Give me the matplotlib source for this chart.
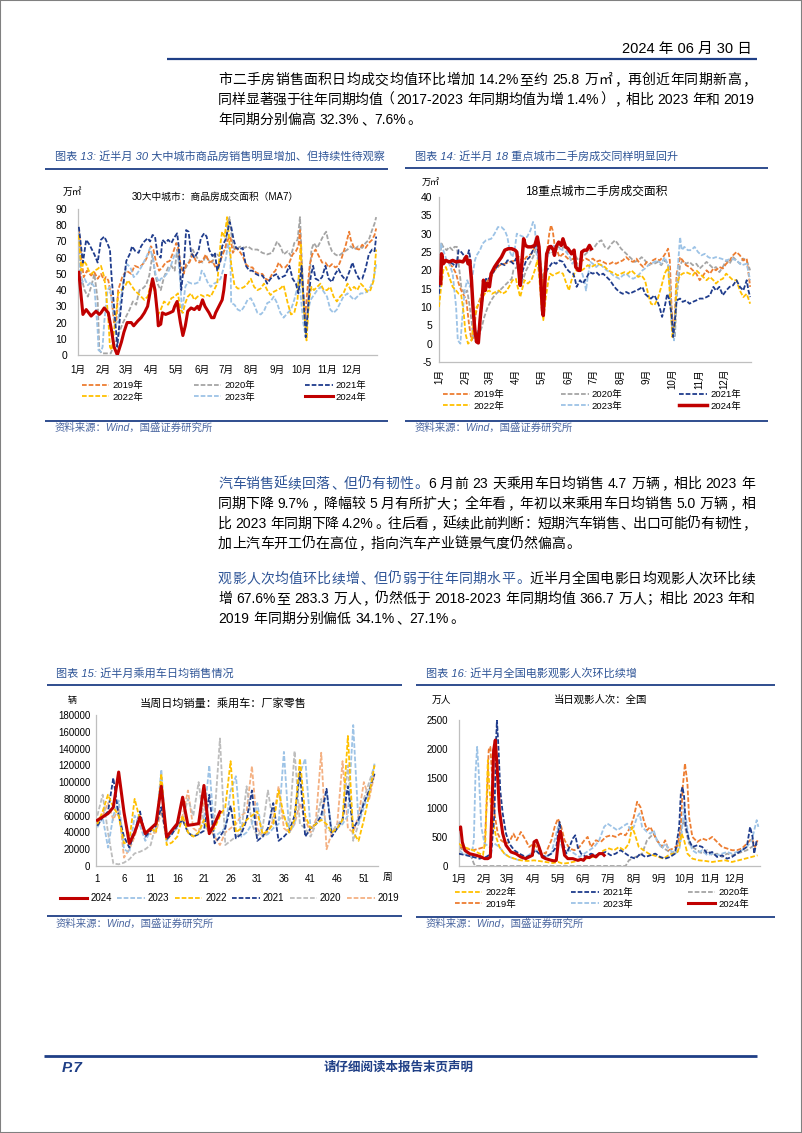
import matplotlib
matplotlib.use('Agg')
import matplotlib.pyplot as plt
from matplotlib.lines import Line2D
from matplotlib.patches import Rectangle

# ======================= DATA =======================
MONTH_LABELS = ['1月', '2月', '3月', '4月', '5月', '6月', '7月', '8月', '9月', '10月', '11月', '12月']
MONTH_START = [0, 31, 59, 90, 120, 151, 181, 212, 243, 273, 304, 334]
YEARS = ['2019年', '2020年', '2021年', '2022年', '2023年', '2024年']

# Chart 13: 30 cities new-home transaction area MA7, (day of year, 万㎡)
C13_2019 = [(1,78),(4,60),(7,48),(11,52),(16,49),(20,51),(24,47),(28,50),(32,46),(34,48),(37,46),(41,35),(44,20),(47,22),(49,40),(54,48),(59,52),(65,50),(69,55),(74,54),(77,55),(81,57),(85,61),(89,67),(92,65),(95,58),(99,52),(103,54),(107,57),(112,58),(116,63),(120,69),(122,67),(125,56),(129,50),(132,56),(136,57),(140,62),(144,58),(148,57),(152,58),(156,62),(160,57),(164,58),(168,54),(172,56),(176,61),(179,65),(183,71),(186,73),(189,63),(193,66),(197,64),(201,61),(205,56),(209,54),(213,54),(217,51),(221,50),(225,50),(229,47),(233,46),(237,50),(241,52),(245,57),(249,54),(253,54),(258,57),(262,62),(266,64),(269,67),(271,77),(273,52),(277,22),(280,40),(283,56),(286,62),(290,65),(294,61),(298,57),(302,57),(306,54),(310,56),(314,54),(318,55),(322,60),(327,68),(331,76),(333,71),(337,66),(343,65),(347,68),(351,66),(355,69),(359,71),(362,74),(364,78)]
C13_2020 = [(1,69),(4,48),(8,40),(12,36),(16,42),(20,50),(24,34),(26,3),(29,1),(34,1),(40,1),(43,5),(47,9),(51,15),(55,20),(59,24),(63,28),(67,33),(71,31),(75,40),(79,41),(83,43),(87,49),(91,62),(94,50),(97,44),(101,40),(105,48),(110,54),(114,55),(118,52),(121,65),(124,54),(128,52),(132,54),(136,58),(140,65),(144,61),(148,58),(152,57),(156,61),(160,58),(164,57),(168,63),(172,61),(176,63),(180,65),(183,81),(185,85),(188,71),(191,65),(195,66),(199,67),(203,66),(207,67),(213,65),(219,65),(225,63),(231,62),(237,63),(243,70),(247,67),(251,62),(256,64),(260,61),(264,69),(268,71),(271,85),(273,61),(276,28),(279,15),(282,44),(285,65),(288,69),(292,66),(296,70),(300,74),(303,76),(306,69),(310,64),(314,62),(318,61),(323,63),(329,65),(333,67),(337,65),(342,67),(347,66),(351,69),(355,71),(359,77),(362,81),(364,85)]
C13_2021 = [(1,79),(6,57),(10,71),(14,68),(20,62),(24,57),(28,71),(32,73),(34,71),(39,65),(41,48),(45,24),(48,5),(51,22),(55,42),(59,58),(63,62),(66,67),(70,64),(74,63),(77,67),(81,70),(85,72),(88,70),(91,74),(94,73),(97,62),(101,60),(103,71),(107,69),(110,71),(114,69),(117,72),(121,75),(123,67),(126,40),(129,54),(132,77),(135,76),(138,63),(142,60),(147,64),(150,72),(154,75),(157,73),(160,65),(164,61),(167,63),(170,52),(174,58),(176,67),(180,71),(183,77),(185,82),(187,79),(190,71),(193,66),(197,65),(201,66),(205,55),(209,52),(213,52),(217,50),(221,49),(225,49),(229,46),(231,44),(235,47),(239,49),(243,50),(245,47),(249,48),(253,49),(258,55),(262,47),(266,44),(269,38),(271,46),(273,55),(275,38),(278,11),(281,30),(284,48),(287,55),(290,47),(294,46),(298,48),(302,55),(306,47),(310,45),(314,50),(318,53),(322,49),(327,46),(331,51),(335,57),(339,51),(343,47),(347,47),(351,53),(355,62),(359,65),(362,64),(364,73)]
C13_2022 = [(1,74),(4,52),(7,58),(10,56),(13,52),(17,50),(20,52),(24,53),(28,55),(32,48),(34,40),(37,22),(39,5),(41,3),(44,15),(47,28),(49,38),(53,40),(57,42),(61,46),(65,43),(69,40),(73,38),(77,36),(81,34),(85,36),(89,44),(92,43),(95,34),(98,25),(101,28),(105,33),(110,31),(114,35),(118,36),(122,38),(125,28),(128,26),(131,32),(134,36),(138,38),(142,34),(146,36),(150,37),(154,36),(158,37),(162,36),(166,40),(170,44),(174,69),(176,76),(179,73),(182,85),(184,75),(187,56),(191,43),(195,41),(199,41),(203,42),(207,44),(211,47),(215,42),(219,40),(223,41),(227,44),(231,40),(235,37),(239,39),(243,40),(247,41),(251,43),(256,32),(260,25),(264,26),(268,34),(270,54),(272,68),(273,50),(277,20),(279,9),(282,34),(285,42),(288,40),(292,42),(296,44),(300,40),(304,40),(308,42),(312,36),(316,33),(320,36),(324,38),(329,44),(333,40),(337,42),(341,40),(345,44),(349,42),(353,39),(357,40),(361,46),(364,65)]
C13_2023 = [(1,61),(4,44),(8,47),(12,43),(16,45),(20,42),(24,15),(25,3),(28,2),(30,5),(32,20),(36,40),(39,42),(41,34),(45,20),(49,20),(52,34),(56,48),(60,56),(64,54),(68,48),(72,50),(77,54),(81,58),(84,61),(88,66),(92,58),(95,49),(99,45),(101,47),(105,48),(110,51),(114,56),(118,62),(122,63),(125,44),(127,26),(131,42),(134,45),(139,44),(143,44),(148,45),(151,52),(154,50),(158,45),(162,42),(166,44),(170,45),(174,47),(178,54),(181,61),(183,69),(186,61),(187,32),(191,31),(195,28),(199,27),(203,30),(207,34),(211,35),(215,31),(219,26),(223,25),(227,27),(231,32),(235,33),(239,36),(243,32),(247,26),(251,23),(256,26),(260,28),(264,34),(267,40),(270,49),(272,36),(275,20),(278,11),(281,28),(284,34),(288,37),(292,40),(296,42),(300,39),(304,36),(308,28),(312,26),(316,28),(320,32),(324,36),(329,38),(333,36),(337,34),(341,36),(345,38),(349,38),(353,39),(357,42),(361,47),(364,56)]
C13_2024 = [(1,51),(6,25),(10,28),(16,24),(22,27),(26,25),(28,26),(32,29),(37,26),(41,15),(44,5),(48,0),(53,8),(56,14),(60,20),(65,20),(68,18),(73,21),(77,23),(81,26),(85,30),(87,36),(91,47),(94,40),(97,25),(98,18),(101,19),(103,26),(107,25),(112,26),(116,27),(118,30),(121,33),(125,20),(128,12),(131,18),(134,27),(138,29),(142,28),(146,30),(148,28),(152,34),(155,30),(160,26),(163,23),(166,23),(168,26),(172,30),(174,32),(176,34),(178,40),(180,49)]

# Chart 14: 18 cities second-hand transaction area, (day of year, 万㎡)
C14_2019 = [(0,17.3),(2,24.5),(5,23.2),(9,22.7),(12,21.8),(16,20.9),(20,19.1),(23,16.4),(26,14.5),(29,13.2),(32,11.8),(35,5.5),(38,0.9),(41,2.7),(43,8.2),(46,10.9),(50,13.6),(54,15.5),(57,17.3),(61,18.2),(65,20.0),(71,21.4),(77,21.8),(83,22.3),(89,22.7),(94,23.6),(98,22.3),(102,23.6),(108,24.5),(112,26.4),(114,29.1),(116,27.3),(119,20.9),(121,15.5),(122,17.3),(126,24.5),(129,30.0),(131,32.3),(133,30.9),(135,27.3),(138,25.5),(141,23.6),(145,24.5),(149,23.6),(153,22.7),(157,23.2),(161,21.8),(165,22.3),(168,22.7),(172,23.2),(176,22.7),(180,23.2),(184,22.3),(188,22.7),(192,22.3),(196,21.8),(200,21.8),(204,22.3),(207,21.8),(211,22.3),(215,22.7),(219,23.6),(223,22.7),(227,22.3),(231,23.2),(235,21.8),(239,20.9),(243,22.3),(246,21.4),(250,22.7),(254,23.2),(258,22.7),(262,23.6),(266,25.0),(268,25.9),(270,22.7),(272,10.0),(274,1.8),(276,8.2),(278,19.1),(282,23.6),(285,22.7),(289,21.4),(293,20.9),(297,20.0),(301,19.1),(305,17.3),(309,18.6),(313,20.0),(317,19.1),(321,20.5),(324,20.0),(328,20.9),(332,20.5),(336,21.8),(340,22.7),(344,24.1),(348,25.0),(352,24.1),(356,22.7),(360,23.2),(364,15.5)]
C14_2020 = [(0,21.8),(3,27.3),(5,26.4),(9,25.5),(12,26.4),(16,25.5),(18,26.4),(21,26.4),(23,21.8),(26,15.5),(28,14.5),(30,13.6),(33,14.5),(36,10.0),(38,6.4),(40,1.8),(43,0.5),(46,1.8),(50,4.5),(53,7.3),(57,10.0),(61,11.8),(65,13.2),(71,14.5),(77,15.9),(81,16.8),(85,17.7),(87,20.0),(91,20.9),(95,19.5),(98,17.3),(102,20.0),(106,21.8),(110,23.6),(114,26.4),(116,28.2),(119,21.8),(122,16.4),(125,21.8),(127,25.0),(131,24.5),(135,25.5),(139,26.4),(143,25.9),(147,26.4),(151,25.0),(155,25.5),(159,24.1),(163,22.7),(167,23.6),(170,24.1),(174,25.0),(178,25.5),(182,26.4),(186,27.7),(190,28.2),(194,26.4),(198,25.9),(202,27.3),(206,28.2),(209,27.3),(213,25.9),(217,25.0),(221,24.1),(225,23.2),(229,22.3),(233,22.7),(237,23.6),(241,22.7),(245,21.4),(248,21.8),(252,21.8),(256,22.3),(260,21.4),(264,22.7),(268,21.8),(271,14.5),(273,3.6),(276,1.8),(278,12.7),(282,21.4),(285,22.7),(289,21.8),(293,22.3),(297,21.4),(301,21.8),(305,20.5),(309,21.4),(313,22.3),(317,21.4),(321,20.5),(324,20.9),(328,19.5),(332,20.9),(336,22.7),(340,21.8),(344,23.6),(348,22.7),(352,21.8),(356,23.2),(360,22.7),(364,20.0)]
C14_2021 = [(0,13.6),(2,19.1),(4,21.8),(8,22.7),(12,22.3),(16,21.8),(20,20.9),(23,25.5),(26,25.0),(29,24.1),(32,22.3),(35,25.5),(37,22.7),(38,17.3),(40,10.0),(42,3.6),(44,0.9),(47,4.5),(50,10.0),(52,15.5),(55,17.7),(57,17.3),(61,18.6),(65,20.0),(69,21.4),(73,21.8),(77,21.4),(80,22.7),(83,22.7),(87,21.8),(90,23.2),(94,19.5),(96,15.5),(98,20.0),(102,22.7),(106,23.6),(110,25.5),(114,27.7),(116,25.0),(119,17.3),(121,10.0),(124,17.3),(126,20.0),(129,20.9),(133,22.3),(137,21.8),(141,22.7),(145,22.3),(149,20.5),(153,19.5),(157,19.1),(159,17.7),(161,15.5),(165,17.3),(168,16.4),(172,17.7),(176,19.5),(180,19.1),(184,19.5),(188,18.6),(192,19.1),(196,18.2),(200,17.3),(204,15.9),(207,15.0),(211,14.1),(215,13.6),(219,14.1),(223,13.6),(227,14.1),(231,14.5),(235,15.0),(238,15.5),(241,13.6),(245,12.7),(248,12.3),(252,13.2),(255,11.8),(258,10.0),(261,7.3),(264,10.0),(267,13.6),(269,12.3),(272,8.2),(274,1.8),(276,6.4),(278,11.8),(282,12.3),(285,11.4),(289,11.8),(293,10.9),(297,11.4),(301,11.8),(305,12.3),(309,12.3),(313,12.7),(317,13.2),(321,15.5),(324,14.5),(328,15.5),(332,13.2),(336,14.5),(340,15.5),(344,15.9),(348,17.3),(352,15.5),(356,14.5),(360,17.3),(362,14.5),(364,12.7)]
C14_2022 = [(0,10.0),(2,14.5),(5,20.0),(8,20.9),(12,18.2),(16,15.5),(20,14.5),(23,13.6),(26,13.2),(29,8.2),(31,2.7),(34,0.0),(38,0.9),(41,6.4),(44,10.0),(47,10.9),(51,12.7),(55,14.1),(59,14.5),(62,13.6),(66,14.1),(70,14.5),(74,13.6),(78,14.1),(82,15.5),(86,17.3),(90,17.7),(92,15.5),(95,12.7),(98,15.5),(100,17.3),(104,16.4),(108,17.3),(112,20.0),(115,22.7),(117,19.1),(120,10.0),(122,6.4),(125,12.7),(128,17.3),(130,19.1),(133,18.6),(137,19.1),(141,19.5),(145,19.1),(149,16.4),(152,14.5),(155,17.3),(159,19.5),(163,20.5),(167,20.0),(170,20.5),(174,21.4),(178,20.9),(182,21.4),(186,21.8),(190,21.4),(194,20.9),(198,20.0),(202,19.5),(206,19.1),(209,18.6),(213,19.1),(217,19.5),(221,19.1),(225,20.0),(229,19.1),(233,18.2),(237,18.6),(241,17.3),(245,13.2),(248,10.9),(252,10.5),(256,12.3),(260,15.5),(264,19.1),(268,20.9),(271,10.0),(273,1.8),(276,5.5),(278,16.4),(282,18.6),(285,19.1),(289,19.5),(293,19.1),(297,18.6),(301,20.0),(305,19.1),(309,18.2),(313,17.3),(317,18.2),(321,17.3),(324,16.4),(328,17.3),(332,17.7),(336,19.1),(340,18.2),(344,17.3),(348,17.3),(352,14.5),(356,12.7),(360,13.6),(364,10.9)]
C14_2023 = [(0,18.2),(2,27.3),(5,25.5),(9,22.7),(12,21.8),(16,19.1),(20,10.0),(22,0.9),(25,0.0),(27,6.4),(30,14.5),(33,17.3),(36,15.5),(39,18.2),(42,22.7),(44,24.1),(48,25.5),(51,27.3),(55,28.2),(61,28.6),(65,30.0),(69,31.8),(73,31.8),(77,30.9),(80,29.1),(83,25.0),(86,23.6),(89,26.4),(91,30.0),(95,29.5),(99,29.1),(103,29.1),(107,30.9),(110,33.2),(112,32.3),(114,24.5),(116,22.7),(119,18.2),(121,10.0),(124,17.3),(126,22.7),(129,25.5),(133,26.8),(137,26.4),(141,25.9),(145,25.5),(149,25.0),(153,23.6),(156,21.8),(159,22.7),(163,20.9),(167,19.5),(170,17.3),(172,14.5),(174,18.2),(177,22.3),(180,21.8),(184,20.9),(188,21.8),(192,20.9),(196,20.0),(200,19.5),(204,18.6),(207,18.2),(211,17.7),(215,18.6),(219,19.1),(223,18.2),(227,17.7),(231,18.2),(235,19.1),(238,20.0),(241,20.5),(245,21.4),(248,21.8),(252,22.3),(256,22.7),(260,21.8),(264,23.6),(269,20.9),(272,5.5),(275,0.9),(277,10.0),(280,22.7),(282,29.1),(284,25.5),(287,26.4),(291,25.5),(295,25.5),(299,26.4),(303,25.0),(307,24.1),(311,24.5),(315,23.6),(319,23.2),(324,23.6),(330,23.2),(336,22.7),(342,23.2),(348,22.7),(354,21.4),(360,21.8),(364,17.3)]
C14_2024 = [(2,16.4),(3,24.5),(5,21.8),(8,22.7),(12,22.3),(16,22.7),(20,22.3),(24,22.5),(28,22.3),(32,23.8),(34,21.8),(36,22.7),(38,17.3),(40,9.1),(42,3.6),(44,0.5),(46,0.2),(48,6.4),(51,13.6),(52,17.3),(54,14.5),(56,16.4),(59,15.5),(61,19.1),(65,20.9),(69,22.3),(73,23.6),(77,25.5),(81,25.9),(85,25.9),(89,25.5),(91,25.0),(93,20.9),(95,15.9),(97,22.3),(99,28.6),(101,26.8),(104,26.4),(108,26.4),(112,26.8),(115,29.1),(117,26.4),(119,17.3),(121,9.1),(122,7.7),(124,17.3),(126,24.5),(129,26.4),(131,26.5),(134,25.5),(135,24.1),(137,26.4),(140,27.7),(143,26.8),(145,28.6),(148,26.4),(151,25.9),(155,24.5),(158,25.5),(160,20.9),(163,20.0),(165,20.0),(167,25.0),(170,25.5),(173,25.5),(176,26.8),(178,25.9)]

# Chart 15: weekly average daily passenger-car retail sales (辆), week 1..53
C15_WEEKS = list(range(1, 54))
C15_2024 = [54500, 58500, 62500, 70000, 112000, 64000, 27000, 40000, 58000, 38600, 44600, 50500, 95000, 34600, 42600, 50500, 82000, 48500, 49400, 50500, 96000, 38600, 50500, 64500]
C15_2023 = [46000, 58000, 22000, 60000, 78000, 20000, 16000, 60000, 48000, 30000, 42000, 45000, 115000, 30000, 40000, 48000, 80000, 40000, 36000, 38000, 55000, 120000, 35000, 40000, 45000, 90000, 107000, 35000, 40000, 50000, 75000, 35000, 38000, 45000, 50000, 136000, 40000, 50000, 110000, 128000, 45000, 50000, 55000, 90000, 40000, 45000, 50000, 60000, 168000, 50000, 70000, 90000, 122000]
C15_2022 = [50000, 65000, 85000, 70000, 60000, 27000, 30000, 80000, 55000, 40000, 45000, 40000, 110000, 25000, 28000, 35000, 60000, 40000, 35000, 40000, 55000, 40000, 45000, 60000, 70000, 125000, 40000, 45000, 55000, 60000, 65000, 38000, 42000, 50000, 90000, 60000, 40000, 55000, 128000, 60000, 45000, 50000, 55000, 50000, 40000, 45000, 55000, 155000, 40000, 30000, 55000, 85000, 120000]
C15_2021 = [48000, 58000, 65000, 105000, 60000, 35000, 22000, 40000, 65000, 35000, 42000, 48000, 70000, 32000, 38000, 48000, 55000, 40000, 35000, 38000, 42000, 85000, 27000, 35000, 45000, 72000, 33000, 38000, 55000, 90000, 30000, 35000, 45000, 75000, 30000, 35000, 42000, 60000, 112000, 35000, 45000, 50000, 60000, 92000, 35000, 45000, 55000, 95000, 45000, 55000, 75000, 90000, 110000]
C15_2020 = [60000, 85000, 40000, 3000, 2000, 4000, 8000, 15000, 17000, 20000, 25000, 50000, 70000, 30000, 40000, 45000, 55000, 80000, 60000, 100000, 50000, 40000, 60000, 152000, 25000, 30000, 35000, 40000, 95000, 50000, 35000, 45000, 90000, 50000, 55000, 60000, 45000, 137000, 50000, 45000, 35000, 50000, 80000, 45000, 40000, 50000, 55000, 120000, 30000, 50000, 80000, 100000, 120000]
C15_2019 = [55000, 60000, 75000, 55000, 70000, 10000, 20000, 35000, 60000, 40000, 38000, 40000, 65000, 35000, 40000, 50000, 60000, 90000, 45000, 40000, 75000, 45000, 35000, 25000, 40000, 45000, 50000, 60000, 65000, 119000, 45000, 35000, 40000, 55000, 95000, 45000, 40000, 50000, 75000, 55000, 40000, 55000, 135000, 20000, 40000, 50000, 125000, 45000, 40000, 60000, 100000, 80000, 110000]
C15_XTICKS = [1, 6, 11, 16, 21, 26, 31, 36, 41, 46, 51]

# Chart 16: national daily cinema admissions (万人), (day of year, value)
C16_2019 = [(0,326),(9,300),(17,270),(25,300),(31,326),(34,1185),(36,1985),(38,2040),(40,1585),(43,900),(47,555),(51,440),(57,383),(61,412),(66,555),(70,440),(75,583),(81,440),(85,326),(91,383),(97,270),(105,212),(112,440),(116,670),(120,812),(124,670),(128,440),(134,300),(140,270),(146,326),(152,440),(156,498),(160,326),(166,440),(172,412),(178,498),(184,526),(190,498),(196,555),(202,526),(208,670),(212,840),(216,1100),(220,1010),(224,785),(228,612),(232,670),(236,555),(240,440),(246,326),(250,440),(254,270),(260,300),(265,355),(269,670),(271,1300),(274,1756),(277,1413),(279,840),(283,498),(289,412),(295,470),(301,440),(307,498),(313,412),(319,326),(325,300),(331,270),(337,270),(343,300),(349,383),(355,470),(359,326),(362,440)]
C16_2020 = [(0,326),(5,270),(11,212),(15,155),(18,40),(20,0),(60,0),(120,0),(180,0),(202,0),(206,97),(214,155),(222,212),(228,440),(232,498),(236,555),(240,440),(246,326),(252,270),(258,212),(262,270),(267,383),(270,670),(273,785),(275,612),(279,383),(283,326),(289,270),(295,212),(301,270),(307,183),(313,212),(319,155),(325,212),(331,183),(337,212),(343,240),(349,270),(355,326),(362,383)]
C16_2021 = [(0,210),(9,183),(17,155),(25,126),(33,155),(39,212),(43,900),(45,2156),(46,2500),(48,1985),(50,1300),(53,900),(57,555),(61,383),(67,270),(73,212),(81,155),(87,183),(93,270),(97,212),(105,155),(112,212),(118,326),(122,755),(125,440),(130,212),(134,326),(138,470),(141,526),(144,326),(148,212),(154,155),(160,212),(166,183),(172,212),(178,240),(184,183),(190,212),(196,270),(202,212),(208,155),(214,126),(220,212),(226,155),(232,183),(238,212),(244,155),(250,126),(256,155),(262,212),(267,670),(269,1240),(271,1355),(273,1185),(275,670),(279,440),(283,326),(289,355),(295,326),(301,212),(307,240),(313,155),(319,183),(325,126),(331,155),(337,212),(343,270),(349,326),(353,670),(356,498),(358,212),(361,440)]
C16_2022 = [(0,383),(5,326),(11,300),(17,270),(25,212),(29,183),(32,440),(34,1413),(35,1813),(37,1300),(40,840),(45,498),(49,326),(55,212),(61,155),(67,126),(75,97),(83,86),(91,97),(97,86),(105,69),(114,51),(120,69),(126,40),(132,51),(138,69),(146,97),(154,126),(162,155),(170,212),(176,270),(182,300),(188,270),(194,326),(200,270),(206,383),(210,670),(213,555),(218,326),(224,270),(230,212),(236,183),(242,155),(248,126),(254,183),(260,212),(265,240),(267,326),(270,555),(273,440),(277,212),(283,126),(291,97),(299,86),(307,69),(315,86),(323,97),(331,69),(339,97),(347,126),(355,155),(362,183)]
C16_2023 = [(0,270),(5,212),(11,183),(15,155),(18,440),(20,1585),(22,2040),(24,1585),(27,670),(31,383),(37,326),(43,383),(49,326),(55,212),(61,155),(67,126),(73,97),(81,155),(87,212),(93,270),(99,212),(105,155),(112,212),(117,498),(120,670),(122,440),(128,212),(134,270),(140,212),(146,155),(152,212),(158,270),(164,326),(170,440),(176,670),(180,726),(186,670),(192,612),(198,670),(204,726),(208,612),(212,670),(216,840),(219,900),(222,670),(228,583),(232,555),(236,612),(240,440),(246,300),(250,383),(256,270),(262,212),(267,270),(270,555),(273,1010),(275,840),(279,440),(283,270),(289,212),(295,270),(301,183),(307,212),(313,183),(319,212),(325,240),(331,212),(337,240),(343,270),(349,326),(355,440),(358,612),(361,785),(363,670)]
C16_2024 = [(0,640),(2,670),(4,410),(7,270),(13,210),(21,183),(27,155),(31,126),(35,126),(38,155),(40,1010),(42,1985),(44,2156),(46,1756),(49,955),(53,555),(57,355),(63,240),(69,210),(75,155),(81,126),(85,155),(89,183),(91,412),(94,440),(97,326),(101,155),(105,126),(112,97),(116,86),(118,97),(121,498),(123,595),(125,440),(128,183),(132,126),(138,126),(144,97),(148,114),(151,97),(154,155),(158,143),(162,183),(166,155),(170,212),(174,212),(176,183)]

# ======================= TEXT =======================
DATE_TEXT = '2024 年 06 月 30 日'
P1 = [
    [('市二手房销售面积日均成交均值环比增加 14.2%至约 25.8 万㎡，再创近年同期新高，', 'k')],
    [('同样显著强于往年同期均值（2017-2023 年同期均值为增 1.4%），相比 2023 年和 2019', 'k')],
    [('年同期分别偏高 32.3%、7.6%。', 'k')],
]
BLUE_T = '#2F5597'
P2 = [
    [('汽车销售延续回落、但仍有韧性。', BLUE_T), ('6 月前 23 天乘用车日均销售 4.7 万辆，相比 2023 年', 'k')],
    [('同期下降 9.7%，降幅较 5 月有所扩大；全年看，年初以来乘用车日均销售 5.0 万辆，相', 'k')],
    [('比 2023 年同期下降 4.2%。往后看，延续此前判断：短期汽车销售、出口可能仍有韧性，', 'k')],
    [('加上汽车开工仍在高位，指向汽车产业链景气度仍然偏高。', 'k')],
]
P3 = [
    [('观影人次均值环比续增、但仍弱于往年同期水平。', BLUE_T), ('近半月全国电影日均观影人次环比续', 'k')],
    [('增 67.6%至 283.3 万人，仍然低于 2018-2023 年同期均值 366.7 万人；相比 2023 年和', 'k')],
    [('2019 年同期分别偏低 34.1%、27.1%。', 'k')],
]
FIG_TITLES = ['图表 13: 近半月 30 大中城市商品房销售明显增加、但持续性待观察',
              '图表 14: 近半月 18 重点城市二手房成交同样明显回升',
              '图表 15: 近半月乘用车日均销售情况',
              '图表 16: 近半月全国电影观影人次环比续增']
SOURCE = '资料来源：Wind，国盛证券研究所'

# ======================= STYLE =======================
W, H = 802, 1133
plt.rcParams['font.family'] = ['Liberation Sans', 'Noto Sans CJK SC']
plt.rcParams['axes.unicode_minus'] = False

C_OR, C_GR, C_NV, C_GD, C_LB, C_RD = '#ED7D31', '#A5A5A5', '#1F3C8C', '#FFC000', '#9DC3E6', '#C00000'
DARKBLUE = '#1F3F86'
DASH = (2.6, 1.1)

fig = plt.figure(figsize=(W / 100, H / 100), dpi=100)
renderer = fig.canvas.get_renderer()


def fx(x):
    return x / W


def fy(y):
    return 1 - y / H


def text(x, y, s, **kw):
    kw.setdefault('va', 'center')
    return fig.text(fx(x), fy(y), s, **kw)


def hline(x0, x1, y, color, lw):
    fig.add_artist(Line2D([fx(x0), fx(x1)], [fy(y), fy(y)], color=color, lw=lw,
                          transform=fig.transFigure, solid_capstyle='butt'))


def make_ax(l, t, r, b):
    return fig.add_axes([fx(l), fy(b), (r - l) / W, (b - t) / H])


PUNCT_LEFT = set('，。、：；！？）》”’')
PUNCT_RIGHT = set('（《“‘')


def is_wide(ch):
    return ord(ch[0]) > 0x2E80


def tokenize(segs):
    items = []
    for s, c in segs:
        buf = ''
        for ch in s:
            if is_wide(ch) or ch == ' ':
                if buf:
                    items.append((buf, c))
                    buf = ''
                items.append((ch, c))
            else:
                buf += ch
        if buf:
            items.append((buf, c))
    return items


def body_line(x0, yc, segs, x1=None, size=10):
    em = size * 100 / 72
    yb = yc + 0.36 * em
    items = tokenize(segs)
    widths, objs = [], []
    for tk, c in items:
        if tk == ' ':
            widths.append(0.26 * em)
            objs.append(None)
            continue
        if is_wide(tk):
            ha = 'left' if tk in PUNCT_LEFT else ('right' if tk in PUNCT_RIGHT else 'center')
        else:
            ha = 'left'
        t = fig.text(0, fy(yb), tk, color=c, fontsize=size, va='baseline', ha=ha)
        if is_wide(tk):
            widths.append(em)
        else:
            widths.append(t.get_window_extent(renderer).width + 0.08 * em)
        objs.append((t, ha))
    n = len(items)
    gap = 0.0
    if x1 is not None and n > 1:
        gap = (x1 - x0 - sum(widths)) / (n - 1)
    x = x0
    for (tk, c), w, o in zip(items, widths, objs):
        if o is not None:
            t, ha = o
            if ha == 'center':
                px = x + w / 2
            elif ha == 'left':
                px = x + (0.1 * em if is_wide(tk) else 0.04 * em)
            else:
                px = x + w - 0.1 * em
            t.set_x(fx(px))
        x += w + gap


def style_ax(ax, ylim, yticks, ypad, xpad, ysize=7, xsize=7):
    ax.set_ylim(*ylim)
    ax.set_yticks(yticks)
    for s in ['top', 'right']:
        ax.spines[s].set_visible(False)
    for s in ['left', 'bottom']:
        ax.spines[s].set_color('#BFBFBF')
        ax.spines[s].set_linewidth(0.9)
    ax.tick_params(axis='y', length=0, labelsize=ysize, pad=ypad)
    ax.tick_params(axis='x', length=0, labelsize=xsize, pad=xpad)
    ax.patch.set_alpha(0)


def xy(pairs):
    return [p[0] for p in pairs], [p[1] for p in pairs]


# ======================= PAGE =======================
text(752, 49, DATE_TEXT, ha='right', fontsize=10.5)
hline(167, 757, 59, DARKBLUE, 1.6)

LS = 20
for i, segs in enumerate(P1):
    body_line(218, 79 + i * LS, segs, x1=755 if i < len(P1) - 1 else None)
for i, segs in enumerate(P2):
    body_line(218, 483 + i * LS, segs, x1=755 if i < len(P2) - 1 else None)
for i, segs in enumerate(P3):
    body_line(218, 578 + i * LS, segs, x1=755 if i < len(P3) - 1 else None)

# section headings / sources
SEC = [
    # title_x, title_y, x0, x1, title_line_y, source_line_y, source_y
    (55, 156, 45, 388, 169, 421, 428),
    (415, 156, 405, 768, 168, 421, 428),
    (56, 673, 47, 402, 685, 916, 924),
    (426, 673, 416, 775, 685, 917, 924),
]
for (tx, ty, x0, x1, ly, sly, sy), title in zip(SEC, FIG_TITLES):
    text(tx, ty, title, fontsize=8, color=BLUE_T, style='italic')
    hline(x0, x1, ly, DARKBLUE, 1.3)
    hline(x0, x1, sly, DARKBLUE, 1.3)
    text(tx, sy, SOURCE, fontsize=7.5, color='#4A66A0', style='italic')

# footer
hline(44, 757, 1056, DARKBLUE, 2.0)
text(62, 1068, 'P.7', fontsize=11, color=DARKBLUE, weight='bold', style='italic')
text(399, 1068, '请仔细阅读本报告末页声明', ha='center', fontsize=9, color=DARKBLUE, weight='bold')

fig.add_artist(Rectangle((0, 0), 1, 1, transform=fig.transFigure, fill=False, ec='#808080', lw=1.5))

LW = 1.3
LW_RED = 2.2

# ---------- Chart 13 ----------
ax = make_ax(78, 209, 377, 355)
h = {}
for name, data, col, z in [('2019年', C13_2019, C_OR, 2), ('2020年', C13_2020, C_GR, 1),
                           ('2021年', C13_2021, C_NV, 4), ('2022年', C13_2022, C_GD, 3),
                           ('2023年', C13_2023, C_LB, 2)]:
    x, y = xy(data)
    h[name], = ax.plot(x, y, color=col, lw=LW, dashes=DASH, zorder=z)
x, y = xy(C13_2024)
h['2024年'], = ax.plot(x, y, color=C_RD, lw=LW_RED, zorder=6)
ax.set_xlim(0, 365)
ax.set_xticks(MONTH_START)
ax.set_xticklabels(MONTH_LABELS)
style_ax(ax, (0, 90), range(0, 91, 10), 8, 7, ysize=7.5)
order = ['2019年', '2022年', '2020年', '2023年', '2021年', '2024年']
fig.legend([h[k] for k in order], order, ncol=3, loc='center left',
           bbox_to_anchor=(fx(82), fy(391.5)), frameon=False, fontsize=6.8,
           handlelength=2.9, handletextpad=0.35, columnspacing=5.3, labelspacing=0.25,
           borderpad=0, borderaxespad=0)
text(215, 197, '30大中城市：商品房成交面积（MA7）', ha='center', fontsize=7)
text(63, 192, '万㎡', fontsize=7)

# ---------- Chart 14 ----------
ax = make_ax(439, 197, 751, 362)
h = {}
for name, data, col, z in [('2019年', C14_2019, C_OR, 2), ('2020年', C14_2020, C_GR, 1),
                           ('2021年', C14_2021, C_NV, 4), ('2022年', C14_2022, C_GD, 3),
                           ('2023年', C14_2023, C_LB, 2)]:
    x, y = xy(data)
    h[name], = ax.plot(x, y, color=col, lw=LW, dashes=DASH, zorder=z)
x, y = xy(C14_2024)
h['2024年'], = ax.plot(x, y, color=C_RD, lw=LW_RED + 0.3, zorder=6)
ax.set_xlim(0, 365)
ax.set_xticks(MONTH_START)
ax.set_xticklabels(MONTH_LABELS, rotation=90, va='top', ha='center')
style_ax(ax, (-5, 40), range(-5, 41, 5), 5, 5, ysize=7.5)
fig.legend([h[k] for k in order], order, ncol=3, loc='center left',
           bbox_to_anchor=(fx(443), fy(400.5)), frameon=False, fontsize=6.8,
           handlelength=2.9, handletextpad=0.35, columnspacing=6.0, labelspacing=0.25,
           borderpad=0, borderaxespad=0)
text(596, 192, '18重点城市二手房成交面积', ha='center', fontsize=8.5)
text(422, 183, '万㎡', fontsize=6.5)

# ---------- Chart 15 ----------
ax = make_ax(96, 715, 378, 866)
h = {}
for name, data, col, z in [('2019', C15_2019, '#F4B183', 1), ('2020', C15_2020, '#BDBDBD', 1),
                           ('2021', C15_2021, C_NV, 3), ('2022', C15_2022, C_GD, 3),
                           ('2023', C15_2023, C_LB, 2)]:
    h[name], = ax.plot(C15_WEEKS[:len(data)], data, color=col, lw=LW, dashes=DASH, zorder=z)
h['2024'], = ax.plot(C15_WEEKS[:len(C15_2024)], C15_2024, color=C_RD, lw=LW_RED, zorder=6)
ax.set_xlim(0.75, 53.65)
ax.set_xticks(C15_XTICKS)
style_ax(ax, (0, 180000), range(0, 180001, 20000), 4, 6)
ax.set_yticklabels([str(v) for v in range(0, 180001, 20000)])
order15 = ['2024', '2023', '2022', '2021', '2020', '2019']
fig.legend([h[k] for k in order15], order15, ncol=6, loc='center left',
           bbox_to_anchor=(fx(60), fy(898)), frameon=False, fontsize=7,
           handlelength=2.8, handletextpad=0.3, columnspacing=0.6,
           borderpad=0, borderaxespad=0)
text(223, 703, '当周日均销量：乘用车：厂家零售', ha='center', fontsize=8)
text(68, 701, '辆', fontsize=6.5)
text(383, 877, '周', fontsize=7)

# ---------- Chart 16 ----------
ax = make_ax(459, 720, 760, 866)
h = {}
for name, data, col, z in [('2019年', C16_2019, C_OR, 2), ('2020年', C16_2020, C_GR, 1),
                           ('2021年', C16_2021, C_NV, 4), ('2022年', C16_2022, C_GD, 3),
                           ('2023年', C16_2023, C_LB, 2)]:
    x, y = xy(data)
    h[name], = ax.plot(x, y, color=col, lw=LW, dashes=DASH, zorder=z)
x, y = xy(C16_2024)
h['2024年'], = ax.plot(x, y, color=C_RD, lw=LW_RED, zorder=6)
ax.set_xlim(0, 365)
ax.set_xticks(MONTH_START)
ax.set_xticklabels(MONTH_LABELS)
style_ax(ax, (0, 2500), range(0, 2501, 500), 8, 6)
order16 = ['2022年', '2019年', '2021年', '2023年', '2020年', '2024年']
fig.legend([h[k] for k in order16], order16, ncol=3, loc='center left',
           bbox_to_anchor=(fx(455), fy(898.5)), frameon=False, fontsize=6.8,
           handlelength=2.9, handletextpad=0.35, columnspacing=5.8, labelspacing=0.25,
           borderpad=0, borderaxespad=0)
text(600, 700, '当日观影人次：全国', ha='center', fontsize=7.5)
text(432, 700, '万人', fontsize=7)

fig.savefig('out.png', dpi=100)
